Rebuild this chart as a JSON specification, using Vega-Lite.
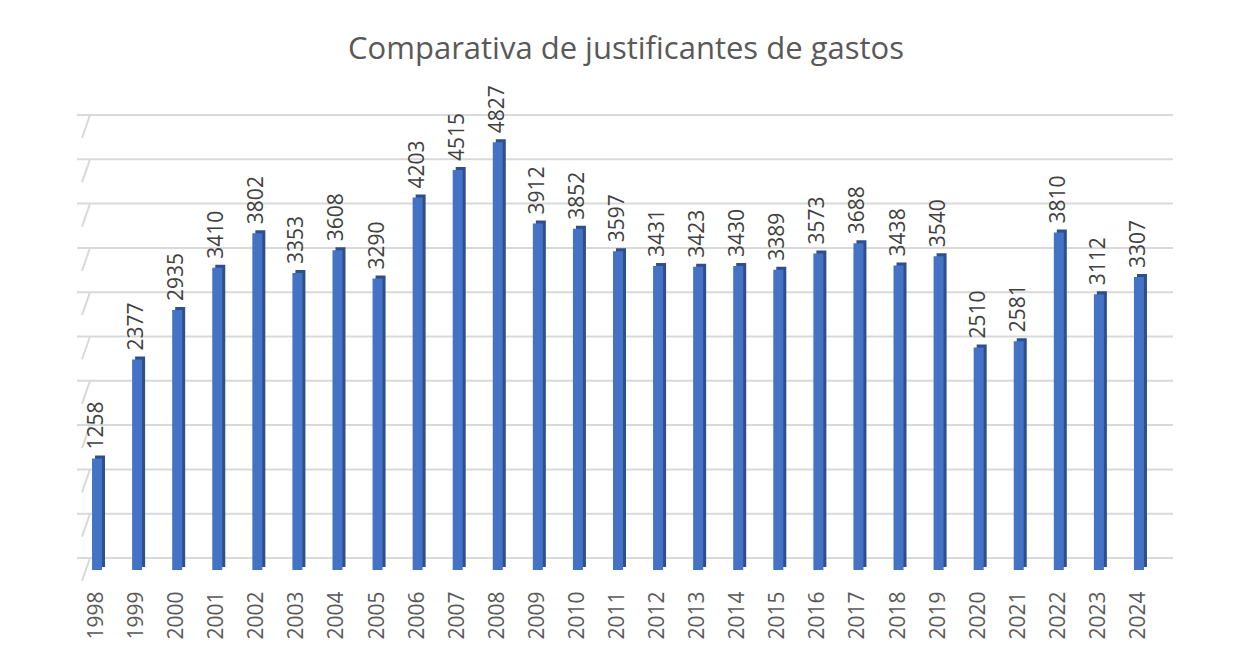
{
  "$schema": "https://vega.github.io/schema/vega-lite/v6.json",
  "autosize": "none",
  "width": 1082,
  "height": 443,
  "padding": {"left": 77, "top": 127, "right": 93, "bottom": 96},
  "background": "white",
  "config": {"view": {"stroke": null}, "font": "Open Sans"},
  "title": {
    "text": "Comparativa de justificantes de gastos",
    "anchor": "middle",
    "fontSize": 31,
    "fontWeight": "normal",
    "color": "#595959",
    "font": "Open Sans",
    "offset": 19,
    "dx": 8
  },
  "datasets": {
    "main": [
      {"year": "1998", "value": 1258},
      {"year": "1999", "value": 2377},
      {"year": "2000", "value": 2935},
      {"year": "2001", "value": 3410},
      {"year": "2002", "value": 3802},
      {"year": "2003", "value": 3353},
      {"year": "2004", "value": 3608},
      {"year": "2005", "value": 3290},
      {"year": "2006", "value": 4203},
      {"year": "2007", "value": 4515},
      {"year": "2008", "value": 4827},
      {"year": "2009", "value": 3912},
      {"year": "2010", "value": 3852},
      {"year": "2011", "value": 3597},
      {"year": "2012", "value": 3431},
      {"year": "2013", "value": 3423},
      {"year": "2014", "value": 3430},
      {"year": "2015", "value": 3389},
      {"year": "2016", "value": 3573},
      {"year": "2017", "value": 3688},
      {"year": "2018", "value": 3438},
      {"year": "2019", "value": 3540},
      {"year": "2020", "value": 2510},
      {"year": "2021", "value": 2581},
      {"year": "2022", "value": 3810},
      {"year": "2023", "value": 3112},
      {"year": "2024", "value": 3307}
    ],
    "grid": [
      {"v": 0}, {"v": 500}, {"v": 1000}, {"v": 1500}, {"v": 2000}, {"v": 2500},
      {"v": 3000}, {"v": 3500}, {"v": 4000}, {"v": 4500}, {"v": 5000}
    ]
  },
  "layer": [
    {
      "data": {"name": "grid"},
      "mark": {"type": "rule", "color": "#d9d9d9", "strokeWidth": 2, "xOffset": 14, "yOffset": -12},
      "encoding": {
        "y": {"field": "v", "type": "quantitative", "scale": {"domain": [0, 5000]}, "axis": null}
      }
    },
    {
      "data": {"name": "grid"},
      "mark": {"type": "rule", "color": "#d9d9d9", "strokeWidth": 2, "xOffset": 13, "x2Offset": 5, "yOffset": -12, "y2Offset": 11},
      "encoding": {
        "x": {"datum": "1998", "bandPosition": 0},
        "x2": {"datum": "1998", "bandPosition": 0},
        "y": {"field": "v", "type": "quantitative"},
        "y2": {"field": "v"}
      }
    },
    {
      "data": {"name": "main"},
      "mark": {"type": "bar", "width": 10, "color": "#2E4F8C", "xOffset": 3, "yOffset": -3},
      "encoding": {
        "x": {"field": "year", "type": "nominal"},
        "y": {"field": "value", "type": "quantitative"}
      }
    },
    {
      "data": {"name": "main"},
      "mark": {"type": "bar", "width": 10, "color": "#4472C4"},
      "encoding": {
        "x": {
          "field": "year",
          "type": "nominal",
          "title": null,
          "scale": {"paddingInner": 0, "paddingOuter": 0},
          "axis": {
            "labelAngle": 270,
            "labelAlign": "right",
            "labelBaseline": "middle",
            "labelFontSize": 21,
            "labelColor": "#595959",
            "labelFont": "Open Sans",
            "labelPadding": 21,
            "domain": false,
            "ticks": false
          }
        },
        "y": {"field": "value", "type": "quantitative"}
      }
    },
    {
      "data": {"name": "main"},
      "mark": {"type": "text", "angle": 270, "align": "left", "baseline": "middle", "dx": 9, "fontSize": 21, "color": "#404040", "font": "Open Sans"},
      "encoding": {
        "x": {"field": "year", "type": "nominal"},
        "y": {"field": "value", "type": "quantitative"},
        "text": {"field": "value", "type": "quantitative", "format": "d"}
      }
    }
  ]
}
